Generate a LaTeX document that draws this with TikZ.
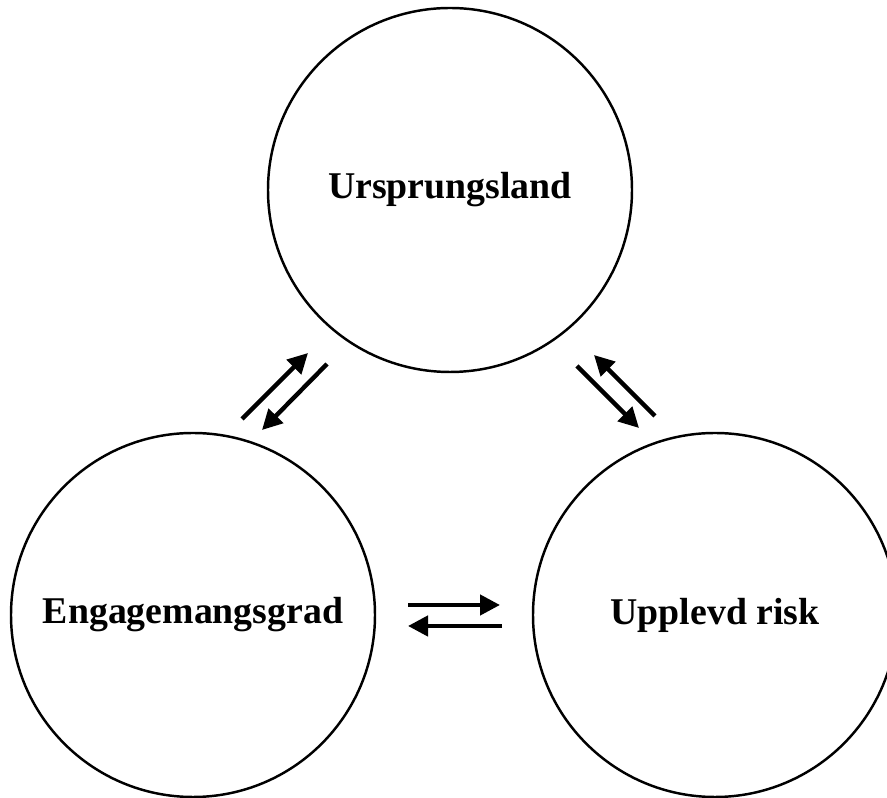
\documentclass[tikz,border=0pt]{standalone}
\usepackage{fontspec}
\setmainfont{Liberation Serif}
\usetikzlibrary{arrows.meta}

\begin{document}
\begin{tikzpicture}[
    factor/.style={draw,circle,line width=1.4pt,minimum size=7.28cm,inner sep=0pt,
      font=\fontsize{21.5}{26}\selectfont\bfseries},
    effect/.style={line width=2.5pt,-{Triangle[length=0.4cm,width=0.4cm]}}
  ]
  \useasboundingbox (0,0) rectangle (17.74,15.96);

  % Three factors
  \node[factor] (ursprung) at (9.0,12.16) {Ursprungsland};
  \node[factor] (engage) at (3.86,3.66) {Engagemangsgrad};
  \node[factor] (risk) at (14.3,3.66) {Upplevd risk};

  % Ends of the arrow pairs
  \coordinate (eu0) at (4.84,7.58);  \coordinate (eu1) at (6.16,8.90);
  \coordinate (ue0) at (6.54,8.68);  \coordinate (ue1) at (5.24,7.36);
  \coordinate (ur0) at (11.54,8.64); \coordinate (ur1) at (12.78,7.40);
  \coordinate (ru0) at (13.10,7.64); \coordinate (ru1) at (11.88,8.86);
  \coordinate (er0) at (8.16,3.86);  \coordinate (er1) at (10.0,3.86);
  \coordinate (re0) at (10.04,3.44); \coordinate (re1) at (8.16,3.44);

  % Engagemangsgrad <-> Ursprungsland
  \draw[effect] (eu0) -- (eu1);
  \draw[effect] (ue0) -- (ue1);

  % Ursprungsland <-> Upplevd risk
  \draw[effect] (ur0) -- (ur1);
  \draw[effect] (ru0) -- (ru1);

  % Engagemangsgrad <-> Upplevd risk
  \draw[effect] (er0) -- (er1);
  \draw[effect] (re0) -- (re1);

\end{tikzpicture}
\end{document}
